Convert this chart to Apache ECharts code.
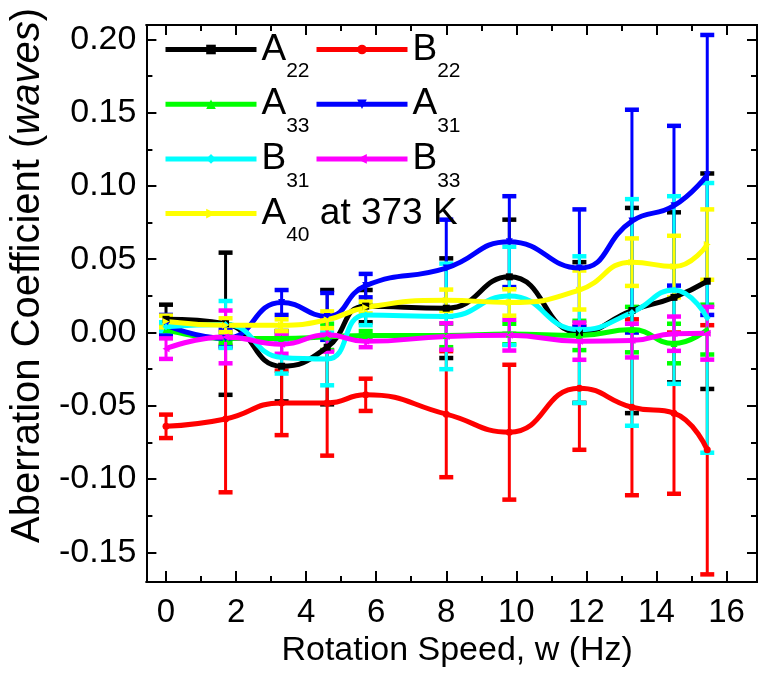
<!DOCTYPE html>
<html><head><meta charset="utf-8">
<script src="https://cdn.jsdelivr.net/npm/echarts@6/dist/echarts.min.js"></script>
<style>html,body{margin:0;padding:0;background:#fff}#c{width:761px;height:675px}</style>
</head><body><div id="c"></div>
<script>
// ---- data ----
const speeds = [0, 1.7, 3.3, 4.6, 5.7, 8.0, 9.8, 11.8, 13.3, 14.5, 15.45];
const A22 = [0.009, 0.006, -0.023, -0.010, 0.018, 0.0166, 0.038, 0.000, 0.015, 0.024, 0.035];
const A22err = [0.010, 0.0485, 0.024, 0.039, 0.011, 0.034, 0.039, 0.048, 0.070, 0.058, 0.0735];
const B22 = [-0.064, -0.059, -0.048, -0.048, -0.0425, -0.0557, -0.068, -0.038, -0.051, -0.055, -0.080];
const B22err = [0.008, 0.050, 0.022, 0.036, 0.011, 0.043, 0.046, 0.042, 0.060, 0.055, 0.085];
const A33 = [0.002, -0.004, -0.004, -0.003, -0.002, -0.002, -0.001, -0.002, 0.002, -0.0075, 0.002];
const A33err = [0.002, 0.003, 0.003, 0.009, 0.003, 0.008, 0.007, 0.010, 0.0155, 0.0135, 0.017];
const A31 = [0.005, -0.004, 0.0205, 0.011, 0.032, 0.044, 0.062, 0.044, 0.076, 0.0865, 0.1075];
const A31err = [0.007, 0.006, 0.0085, 0.016, 0.008, 0.033, 0.031, 0.040, 0.076, 0.0545, 0.0955];
const B31 = [0.004, 0.0055, -0.017, -0.018, 0.012, 0.011, 0.025, 0.002, 0.0137, 0.029, 0.010];
const B31err = [0.003, 0.016, 0.011, 0.018, 0.007, 0.036, 0.0335, 0.050, 0.0773, 0.064, 0.092];
const B33 = [-0.011, -0.003, -0.008, -0.0016, -0.006, -0.0027, -0.0018, -0.0059, -0.0055, -0.0008, -0.0005];
const B33err = [0.007, 0.018, 0.0065, 0.0114, 0.004, 0.009, 0.0105, 0.0127, 0.0115, 0.0117, 0.018];
const A40 = [0.0075, 0.005, 0.005, 0.0087, 0.017, 0.022, 0.0205, 0.029, 0.048, 0.045, 0.060];
const A40err = [0.004, 0.0047, 0.004, 0.0057, 0.004, 0.0073, 0.009, 0.0133, 0.0162, 0.021, 0.024];

const xTicks = [0, 2, 4, 6, 8, 10, 12, 14, 16];
const xMinorTicks = [1, 3, 5, 7, 9, 11, 13, 15];
const yTicks = [-0.15, -0.10, -0.05, 0.00, 0.05, 0.10, 0.15, 0.20];
const yMinorTicks = [-0.125, -0.075, -0.025, 0.025, 0.075, 0.125, 0.175];

const seriesDefs = [
  {name: 'A22', label: '{m|A}{s|22}', vals: A22, errs: A22err, color: '#000000', symbol: 'rect'},
  {name: 'B22', label: '{m|B}{s|22}', vals: B22, errs: B22err, color: '#ff0000', symbol: 'circle'},
  {name: 'A33', label: '{m|A}{s|33}', vals: A33, errs: A33err, color: '#00ff00', symbol: 'triangle'},
  {name: 'A31', label: '{m|A}{s|31}', vals: A31, errs: A31err, color: '#0000ff', symbol: 'path://M0,0 L10,0 L5,10 Z'},
  {name: 'B31', label: '{m|B}{s|31}', vals: B31, errs: B31err, color: '#00ffff', symbol: 'diamond'},
  {name: 'B33', label: '{m|B}{s|33}', vals: B33, errs: B33err, color: '#ff00ff', symbol: 'path://M10,0 L10,10 L0,5 Z'},
  {name: 'A40', label: '{m|A}{s|40}{m| at 373 K}', vals: A40, errs: A40err, color: '#ffff00', symbol: 'path://M0,0 L0,10 L10,5 Z'}
];

const X_MIN = -0.56, X_MAX = 16.87, Y_MIN = -0.1702, Y_MAX = 0.2098;
const FONT = "'Liberation Sans', Arial, sans-serif";

function axis(extra, min, max) {
  return Object.assign({
    type: 'value', min: min, max: max,
    splitLine: {show: false},
    axisLine: {show: true, onZero: false, lineStyle: {color: '#000', width: 2}},
    axisLabel: {show: false},
    axisTick: {show: false}
  }, extra);
}
function ticks(values, len) {
  return {show: true, inside: true, length: len, customValues: values, lineStyle: {color: '#000', width: 2}};
}

const xAxes = [
  axis({position: 'bottom', axisTick: ticks(xTicks, 11),
    axisLabel: {show: true, customValues: xTicks, margin: 14, color: '#000', fontSize: 33, fontFamily: FONT},
    name: 'Rotation Speed, w (Hz)', nameLocation: 'middle', nameGap: 52,
    nameTextStyle: {color: '#000', fontSize: 34, fontFamily: FONT, padding: [0, 0, 0, 11]}}, X_MIN, X_MAX),
  axis({position: 'bottom', axisTick: ticks(xMinorTicks, 6)}, X_MIN, X_MAX),
  axis({position: 'top', axisTick: ticks(xTicks, 10)}, X_MIN, X_MAX),
  axis({position: 'top', axisTick: ticks(xMinorTicks, 6)}, X_MIN, X_MAX)
];
const yAxes = [
  axis({position: 'left', axisTick: ticks(yTicks, 10),
    axisLabel: {show: true, customValues: yTicks, margin: 10, color: '#000', fontSize: 34, fontFamily: FONT,
      formatter: v => v.toFixed(2)},
    name: 'Aberration Coefficient ({i|waves})', nameLocation: 'middle', nameGap: 87,
    nameTextStyle: {color: '#000', fontSize: 40, fontFamily: FONT, padding: [0, 0, 0, 56],
      rich: {i: {fontSize: 40, fontFamily: FONT, fontStyle: 'italic', color: '#000'}}}}, Y_MIN, Y_MAX),
  axis({position: 'left', axisTick: ticks(yMinorTicks, 6)}, Y_MIN, Y_MAX),
  axis({position: 'right', axisTick: ticks(yTicks, 10)}, Y_MIN, Y_MAX),
  axis({position: 'right', axisTick: ticks(yMinorTicks, 6)}, Y_MIN, Y_MAX)
];

function errRenderer(color) {
  return function (params, api) {
    const x = api.value(0), lo = api.value(1), hi = api.value(2);
    const pLo = api.coord([x, lo]), pHi = api.coord([x, hi]);
    const hw = 7;
    return {type: 'group', children: [
      {type: 'line', shape: {x1: pLo[0], y1: pLo[1], x2: pHi[0], y2: pHi[1]}, style: {stroke: color, lineWidth: 3}},
      {type: 'line', shape: {x1: pHi[0] - hw, y1: pHi[1], x2: pHi[0] + hw, y2: pHi[1]}, style: {stroke: color, lineWidth: 4.5}},
      {type: 'line', shape: {x1: pLo[0] - hw, y1: pLo[1], x2: pLo[0] + hw, y2: pLo[1]}, style: {stroke: color, lineWidth: 4.5}}
    ]};
  };
}

const series = [];
seriesDefs.forEach(d => {
  series.push({
    name: d.name, type: 'line', smooth: 0.5, xAxisIndex: 0, yAxisIndex: 0,
    data: speeds.map((x, i) => [x, d.vals[i]]),
    symbol: d.symbol, symbolSize: 7, showSymbol: true,
    itemStyle: {color: d.color}, lineStyle: {color: d.color, width: 5}
  });
  series.push({
    name: d.name + ' err', type: 'custom', xAxisIndex: 0, yAxisIndex: 0,
    data: speeds.map((x, i) => [x, d.vals[i] - d.errs[i], d.vals[i] + d.errs[i]]),
    encode: {x: 0, y: [1, 2]}, renderItem: errRenderer(d.color), clip: true
  });
});

const labelMap = {};
seriesDefs.forEach(d => labelMap[d.name] = d.label);
const legendText = {
  color: '#000',
  rich: {
    m: {fontSize: 37, lineHeight: 46, fontFamily: FONT, color: '#000', verticalAlign: 'middle'},
    s: {fontSize: 21, lineHeight: 21, fontFamily: FONT, color: '#000', verticalAlign: 'middle', padding: [44, 0, 0, 0]}
  }
};
function legend(names, left) {
  return {
    data: names, left: left, top: 17, orient: 'vertical', padding: 0,
    itemWidth: 91, itemHeight: 12, itemGap: -10.3, selectedMode: false,
    lineStyle: {width: 5},
    formatter: n => labelMap[n], textStyle: legendText
  };
}

const chart = echarts.init(document.getElementById('c'), null, {renderer: 'canvas'});
chart.setOption({
  animation: false,
  backgroundColor: '#fff',
  grid: {left: 138, right: 4, top: 25, bottom: 93, containLabel: false},
  xAxis: xAxes,
  yAxis: yAxes,
  legend: [legend(['A22', 'A33', 'B31', 'A40'], 163), legend(['B22', 'A31', 'B33'], 314)],
  series: series
});
</script></body></html>
